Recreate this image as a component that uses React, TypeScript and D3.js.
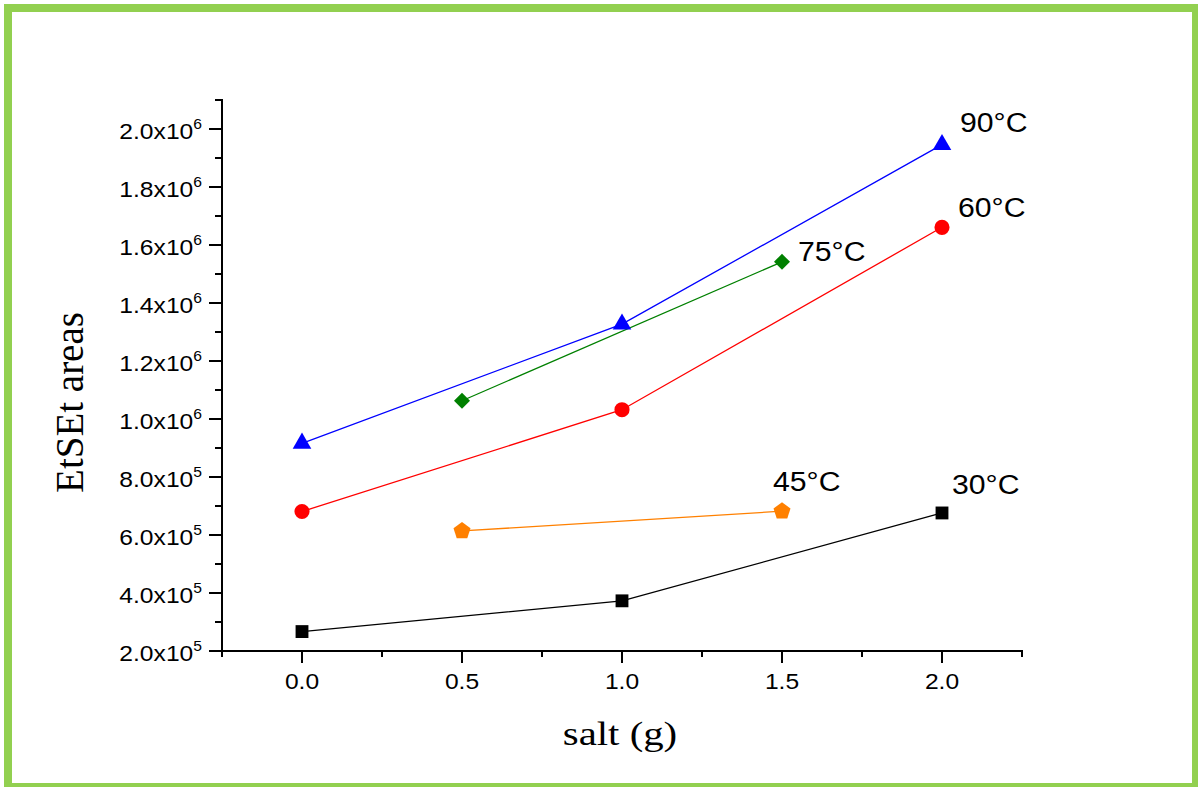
import { useEffect } from "react";
import * as d3 from "d3";

const xTickValues = [0, 0.5, 1.0, 1.5, 2.0];
const xMinorValues = [-0.25, 0.25, 0.75, 1.25, 1.75, 2.25];
const yTickValues = [2e5, 4e5, 6e5, 8e5, 1.0e6, 1.2e6, 1.4e6, 1.6e6, 1.8e6, 2.0e6];
const yTickMantissa = ["2.0", "4.0", "6.0", "8.0", "1.0", "1.2", "1.4", "1.6", "1.8", "2.0"];
const yTickExponent = ["5", "5", "5", "5", "6", "6", "6", "6", "6", "6"];
const yMinorValues = [3e5, 5e5, 7e5, 9e5, 1.1e6, 1.3e6, 1.5e6, 1.7e6, 1.9e6, 2.1e6];

// salt (g) -> EtSEt area, one array per temperature
const salt30 = [0, 1, 2];
const area30 = [2.67e5, 3.73e5, 6.76e5];
const salt45 = [0.5, 1.5];
const area45 = [6.14e5, 6.82e5];
const salt60 = [0, 1, 2];
const area60 = [6.81e5, 1.032e6, 1.661e6];
const salt75 = [0.5, 1.5];
const area75 = [1.063e6, 1.542e6];
const salt90 = [0, 1, 2];
const area90 = [9.16e5, 1.327e6, 1.946e6];

// regular pentagon symbol (point up)
const pentagon: d3.SymbolType = {
  draw(context, size) {
    const r = Math.sqrt(size / 2.378);
    for (let i = 0; i < 5; i++) {
      const a = -Math.PI / 2 + (i * 2 * Math.PI) / 5;
      const px = r * Math.cos(a);
      const py = r * Math.sin(a);
      if (i === 0) context.moveTo(px, py);
      else context.lineTo(px, py);
    }
    context.closePath();
  },
};

type Series = {
  label: string;
  xs: number[];
  ys: number[];
  color: string;
  symbol: d3.SymbolType;
  size: number;
  rotate: number;
  dx: number;
  dy: number;
};

const series: Series[] = [
  { label: "30°C", xs: salt30, ys: area30, color: "#000000", symbol: d3.symbolSquare, size: 165, rotate: 0, dx: 10, dy: -19 },
  { label: "45°C", xs: salt45, ys: area45, color: "#ff8000", symbol: pentagon, size: 190, rotate: 0, dx: -9, dy: -20 },
  { label: "60°C", xs: salt60, ys: area60, color: "#ff0000", symbol: d3.symbolCircle, size: 180, rotate: 0, dx: 16, dy: -10 },
  { label: "75°C", xs: salt75, ys: area75, color: "#008000", symbol: d3.symbolSquare, size: 128, rotate: 45, dx: 16, dy: -1 },
  { label: "90°C", xs: salt90, ys: area90, color: "#0000ff", symbol: d3.symbolTriangle, size: 150, rotate: 0, dx: 18, dy: -13 },
];

const width = 1198;
const height = 787;
const margin = { top: 100, right: 176, bottom: 136, left: 222 };

const tickFont = "'Liberation Sans', Arial, Helvetica, sans-serif";
const serifFont = "'Liberation Serif', 'Times New Roman', serif";

export default function App() {
  useEffect(() => {
    document.body.style.margin = "0";
  }, []);

  const x = d3
    .scaleLinear()
    .domain([-0.25, 2.25])
    .range([margin.left, width - margin.right]);
  const y = d3
    .scaleLinear()
    .domain([2e5, 2.1e6])
    .range([height - margin.bottom, margin.top]);

  const line = d3
    .line<[number, number]>()
    .x((d) => x(d[0]))
    .y((d) => y(d[1]));

  const x0 = x(-0.25);
  const y0 = y(2e5);

  return (
    <svg
      width={width}
      height={height}
      style={{ position: "absolute", left: 0, top: 0, background: "#ffffff" }}
    >
      <rect x={8} y={8} width={1188} height={779} fill="#ffffff" stroke="#92d050" strokeWidth={8} />

      {/* y axis */}
      <line x1={x0} x2={x0} y1={y(2.1e6) - 1} y2={y0} stroke="#000" strokeWidth={2} />
      {yTickValues.map((v, i) => (
        <g key={`ym${v}`}>
          <line x1={x0 - 13} x2={x0} y1={y(v)} y2={y(v)} stroke="#000" strokeWidth={2} />
          <text
            transform={`translate(${x0 - 20},${y(v) + 10}) scale(1.12,1)`}
            textAnchor="end"
            fontFamily={tickFont}
            fontSize={22}
            fill="#000"
          >
            {yTickMantissa[i]}x10
            <tspan fontSize={14} dy={-10}>
              {yTickExponent[i]}
            </tspan>
          </text>
        </g>
      ))}
      {yMinorValues.map((v) => (
        <line key={`yn${v}`} x1={x0 - 7} x2={x0} y1={y(v)} y2={y(v)} stroke="#000" strokeWidth={2} />
      ))}

      {/* x axis */}
      <line x1={x0 - 1} x2={x(2.25) + 1} y1={y0} y2={y0} stroke="#000" strokeWidth={2} />
      {xTickValues.map((v) => (
        <g key={`xm${v}`}>
          <line x1={x(v)} x2={x(v)} y1={y0} y2={y0 + 12} stroke="#000" strokeWidth={2} />
          <text
            transform={`translate(${x(v)},${y0 + 38}) scale(1.12,1)`}
            textAnchor="middle"
            fontFamily={tickFont}
            fontSize={22}
            fill="#000"
          >
            {v.toFixed(1)}
          </text>
        </g>
      ))}
      {xMinorValues.map((v) => (
        <line key={`xn${v}`} x1={x(v)} x2={x(v)} y1={y0} y2={y0 + 6} stroke="#000" strokeWidth={2} />
      ))}

      {/* axis titles */}
      <text
        transform={`translate(${(x(-0.25) + x(2.25)) / 2 - 2},745) scale(1.2,1)`}
        textAnchor="middle"
        fontFamily={serifFont}
        fontSize={34}
        fill="#000"
      >
        salt (g)
      </text>
      <text
        transform={`translate(83,${(y(2e5) + y(2.1e6)) / 2 + 27}) rotate(-90) scale(1,1.05)`}
        textAnchor="middle"
        fontFamily={serifFont}
        fontSize={39}
        fill="#000"
      >
        EtSEt areas
      </text>

      {/* series */}
      {series.map((s) => {
        const pts = s.xs.map((v, i) => [v, s.ys[i]] as [number, number]);
        const sym = d3.symbol().type(s.symbol).size(s.size);
        const last = pts[pts.length - 1];
        return (
          <g key={s.label}>
            <path d={line(pts) || ""} fill="none" stroke={s.color} strokeWidth={1.3} />
            {pts.map((p, i) => (
              <path
                key={i}
                d={sym() || ""}
                transform={`translate(${x(p[0])},${y(p[1])}) rotate(${s.rotate})`}
                fill={s.color}
              />
            ))}
            <text
              transform={`translate(${x(last[0]) + s.dx},${y(last[1]) + s.dy}) scale(1.12,1)`}
              fontFamily={tickFont}
              fontSize={27}
              fill="#000"
            >
              {s.label}
            </text>
          </g>
        );
      })}
    </svg>
  );
}
